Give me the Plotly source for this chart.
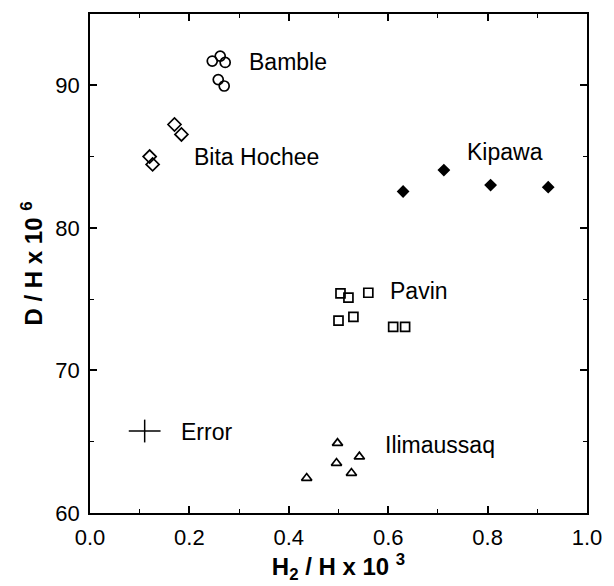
import plotly.graph_objects as go

# Data
bamble_x = [0.246, 0.262, 0.272, 0.258, 0.270]
bamble_y = [91.7, 92.05, 91.6, 90.4, 89.95]

bita_x = [0.170, 0.184, 0.120, 0.126]
bita_y = [87.25, 86.55, 85.0, 84.45]

kipawa_x = [0.630, 0.712, 0.806, 0.922]
kipawa_y = [82.55, 84.05, 83.0, 82.85]

pavin_x = [0.504, 0.520, 0.560, 0.500, 0.530, 0.610, 0.634]
pavin_y = [75.4, 75.1, 75.45, 73.5, 73.75, 73.05, 73.05]

ilim_x = [0.498, 0.542, 0.496, 0.526, 0.436]
ilim_y = [64.9, 63.95, 63.5, 62.8, 62.45]

error_x = [0.11]
error_y = [65.75]
error_dx = [0.032]
error_dy = [0.8]

labels = ["Bamble", "Bita Hochee", "Kipawa", "Pavin", "Ilimaussaq", "Error"]
label_x = [0.316, 0.206, 0.754, 0.600, 0.590, 0.180]
label_y = [91.6, 85.0, 85.3, 75.6, 64.8, 65.7]

x_ticks = [0.0, 0.2, 0.4, 0.6, 0.8, 1.0]
y_ticks = [60, 70, 80, 90]

FONT = "Liberation Sans, Arial, Helvetica, sans-serif"

fig = go.Figure()

def add(xs, ys, symbol, size):
    fig.add_trace(go.Scatter(
        x=xs, y=ys, mode="markers",
        marker=dict(symbol=symbol, size=size, color="black",
                    line=dict(color="black", width=1.7)),
        showlegend=False, hoverinfo="skip"))

add(bamble_x, bamble_y, "circle-open", 10)
add(bita_x, bita_y, "diamond-open", 10)
add(kipawa_x, kipawa_y, "diamond", 8)
add(pavin_x, pavin_y, "square-open", 9)
add(ilim_x, ilim_y, "triangle-up-open", 9)

fig.add_trace(go.Scatter(
    x=error_x, y=error_y, mode="markers",
    marker=dict(size=1, color="black"),
    error_x=dict(type="data", array=error_dx, color="black", thickness=1.5, width=0),
    error_y=dict(type="data", array=error_dy, color="black", thickness=1.5, width=0),
    showlegend=False, hoverinfo="skip"))

for t, x, y in zip(labels, label_x, label_y):
    fig.add_annotation(x=x, y=y, text=t, showarrow=False, xanchor="left",
                       yanchor="middle", font=dict(family=FONT, size=23, color="black"))

axis_common = dict(
    showline=True, linecolor="black", linewidth=1.5, mirror="ticks",
    ticks="inside", ticklen=7, tickwidth=1.5, tickcolor="black",
    showgrid=False, zeroline=False,
    tickfont=dict(family=FONT, size=22, color="black"),
)

fig.update_xaxes(
    range=[0, 1.0], tickvals=x_ticks, ticktext=[f"{v:.1f}" for v in x_ticks],
    minor=dict(ticks="inside", ticklen=4, tickwidth=1.2, tickcolor="black", dtick=0.1, tick0=0),
    ticklabelstandoff=4,
    title=dict(text="<b>H<sub>2</sub> / H x 10 <sup>3</sup></b>",
               font=dict(family=FONT, size=24, color="black"), standoff=6),
    **axis_common)
fig.update_yaxes(
    range=[60, 95], tickvals=y_ticks, ticktext=[str(v) for v in y_ticks],
    minor=dict(ticks="inside", ticklen=4, tickwidth=1.2, tickcolor="black", dtick=5, tick0=60),
    ticklabelstandoff=4,
    title=dict(text="<b>D / H x 10 <sup>6</sup></b>",
               font=dict(family=FONT, size=24, color="black"), standoff=6),
    **axis_common)

fig.update_layout(
    width=614, height=586,
    margin=dict(l=90, r=24, t=14, b=73),
    paper_bgcolor="white", plot_bgcolor="white",
    font=dict(family=FONT, color="black"),
)

fig.write_html(
    "out.html",
    config={"displayModeBar": False},
    post_script="document.body.style.margin='0';document.body.style.overflow='hidden';"
                "document.documentElement.style.overflow='hidden';",
)
